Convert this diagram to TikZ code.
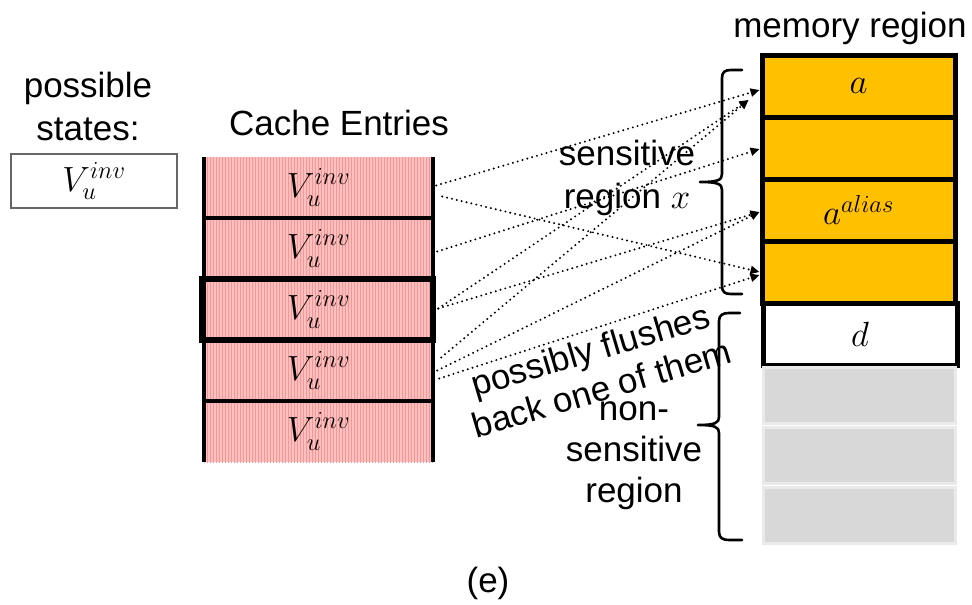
\RequirePackage{fix-cm}
\documentclass[tikz,border=0pt]{standalone}
\usepackage{fontspec}
\setmainfont{Liberation Sans}
\usetikzlibrary{arrows.meta,patterns}

\definecolor{cachepink}{RGB}{255,192,192}
\definecolor{cachestripe}{RGB}{248,150,150}
\definecolor{memorange}{RGB}{255,192,0}
\definecolor{unusedgray}{RGB}{216,216,216}
\definecolor{unusededge}{RGB}{234,234,234}

\tikzset{
  labeltext/.style={font=\fontsize{35}{43}\selectfont, align=center, inner sep=0pt},
  mathtext/.style={font=\fontsize{35}{40}\selectfont},
  cell/.style={mathtext, minimum width=229pt, minimum height=61pt, inner sep=0pt,
    preaction={fill=cachepink}, pattern=vertical lines, pattern color=cachestripe},
  memcell/.style={mathtext, minimum width=193pt, minimum height=62pt, inner sep=0pt,
    draw=black, line width=5pt, fill=memorange},
  freecell/.style={minimum width=192pt, minimum height=56pt, inner sep=0pt,
    draw=unusededge, line width=3pt, fill=unusedgray},
  colline/.style={line width=4pt},
  flow/.style={line width=2.2pt, line cap=round, dash pattern=on 0pt off 5pt,
    -{Triangle[length=9pt,width=8pt]}},
  bracepath/.style={line width=2.6pt, line cap=round, line join=round},
}

\begin{document}
\begin{tikzpicture}[x=1pt,y=-1pt]
\useasboundingbox (0,0) rectangle (972,605);

% legend of possible states
\node[labeltext] (states) at (88,106) {possible\\states:};
\node[mathtext, draw=black!60, line width=1.3pt, minimum width=166pt, minimum height=54pt, inner sep=0pt]
  (legend) at (94,181) {$V_u^{inv}$};

% cache column
\node[labeltext] (cachetitle) at (339,123) {Cache Entries};
\node[cell] (c1) at (318.5,187.5) {$V_u^{inv}$};
\node[cell] (c2) at (318.5,248.5) {$V_u^{inv}$};
\node[cell] (c3) at (318.5,309.5) {$V_u^{inv}$};
\node[cell] (c4) at (318.5,370.5) {$V_u^{inv}$};
\node[cell] (c5) at (318.5,431.5) {$V_u^{inv}$};
\draw[colline] (c1.north west) -- (c5.south west);
\draw[colline] (c1.north east) -- (c5.south east);
\draw[colline] (c1.south west) -- (c1.south east);
\draw[colline] (c4.south west) -- (c4.south east);
\draw[line width=6.5pt] ([xshift=-2pt]c3.north west) rectangle (c3.south east);

% memory column
\node[labeltext] (memtitle) at (850,28) {memory region};
\node[memcell] (m1) at (858.5,86) {$a$};
\node[memcell] (m2) at (858.5,148) {};
\node[memcell] (m3) at (858.5,210) {$a^{alias}$};
\node[memcell] (m4) at (858.5,272) {};
\node[memcell, fill=white, minimum width=194pt] (md) at (860,334) {$d$};
\node[freecell] (g1) at (859,395) {};
\node[freecell] (g2) at (859,455) {};
\node[freecell] (g3) at (859,515) {};

% braces
\draw[bracepath] (742,70) -- (731,70) .. controls (725,70) and (722,72) .. (722,78)
  -- (722,174) .. controls (722,180) and (718,182) .. (700,182)
  .. controls (718,182) and (722,184) .. (722,190)
  -- (722,286) .. controls (722,292) and (725,294) .. (731,294) -- (742,294);
\draw[bracepath] (740,313) -- (729,313) .. controls (723,313) and (719,315) .. (719,321)
  -- (719,417) .. controls (719,423) and (715,425) .. (698,425)
  .. controls (715,425) and (719,427) .. (719,433)
  -- (719,532) .. controls (719,538) and (723,540) .. (729,540) -- (742,540);

% region labels
\node[labeltext] (senslabel) at (627,178) {sensitive\\region $x$};
\node[labeltext, font=\fontsize{35}{41}\selectfont] (nonsenslabel) at (634,456) {non-\\sensitive\\region};

% flush paths
\draw[flow] ([xshift=3pt,yshift=2pt]c1.east) -- ([yshift=-4pt]m1.west);
\draw[flow] ([xshift=9pt,yshift=-9pt]c1.east) -- (m4.west);
\draw[flow] ([xshift=4pt,yshift=-3pt]c2.east) -- ([yshift=-1pt]m2.west);
\draw[flow] ([xshift=5pt,yshift=1pt]c3.east) -- ([xshift=-11pt,yshift=-14pt]m1.west);
\draw[flow] ([xshift=5pt,yshift=1pt]c3.east) -- ([yshift=-2pt]m3.west);
\draw[flow] ([xshift=8pt,yshift=13pt]c4.east) -- ([xshift=-11pt,yshift=-14pt]m1.west);
\draw[flow] ([xshift=4pt]c4.east) -- ([yshift=-2pt]m3.west);
\draw[flow] ([xshift=6pt,yshift=-8pt]c4.east) -- ([yshift=-3pt]m4.west);

\node[labeltext, rotate=16.5, font=\fontsize{35}{40}\selectfont] (flushnote) at (596,369) {possibly flushes\\back one of them};

\node[labeltext] (caption) at (488,583) {(e)};
\end{tikzpicture}
\end{document}
